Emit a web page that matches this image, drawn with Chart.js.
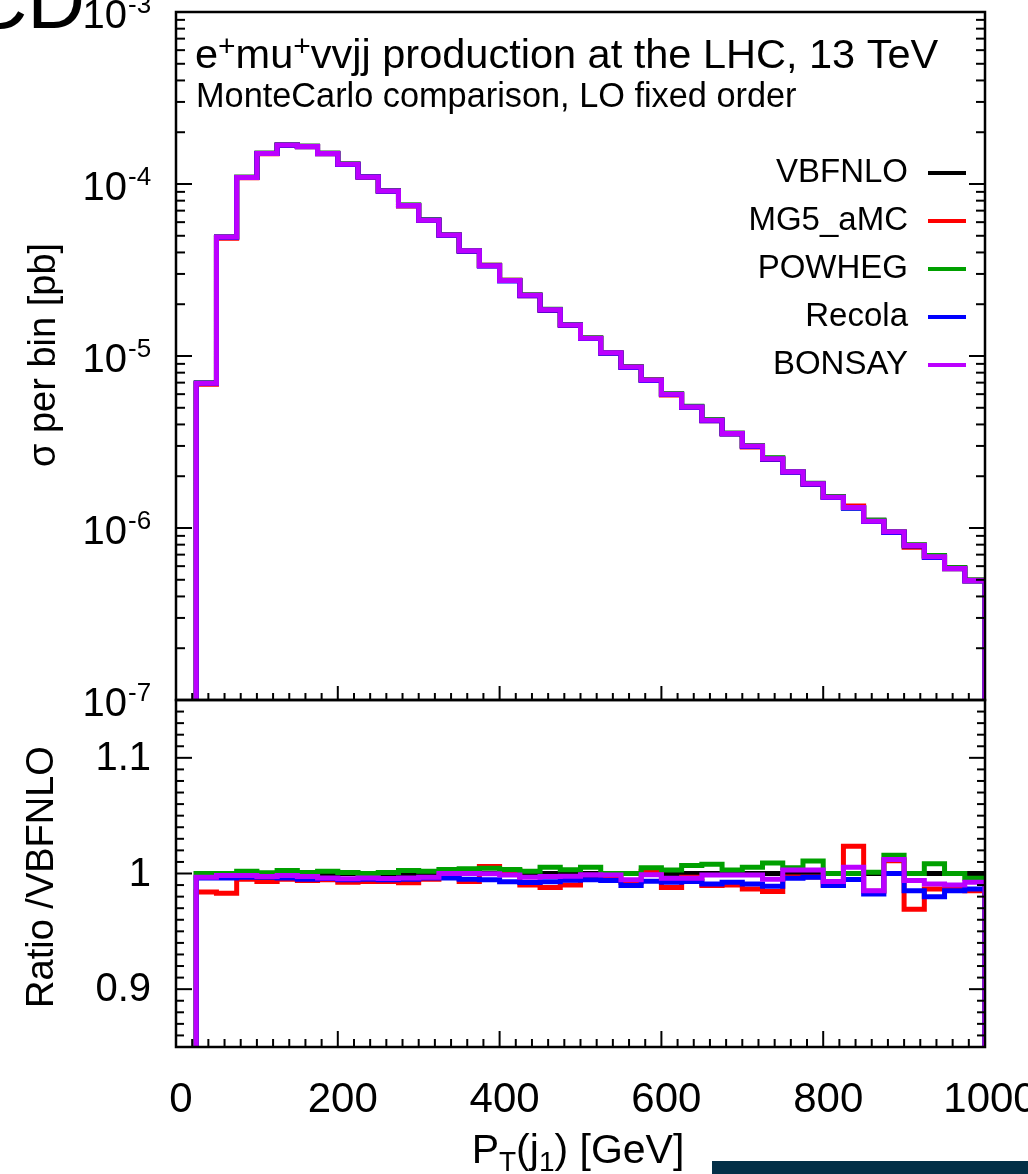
<!DOCTYPE html>
<html><head><meta charset="utf-8">
<script src="https://cdn.jsdelivr.net/npm/chart.js@4/dist/chart.umd.min.js"></script>
<style>
html,body{margin:0;padding:0;background:#fff;width:1028px;height:1174px;overflow:hidden}
canvas{position:absolute;left:0;top:0}
</style></head><body>
<canvas id="top" width="1028" height="1174"></canvas>
<canvas id="bot" width="1028" height="1174"></canvas>
<script>
// ---------------- DATA ----------------
const binLowEdges = [25,50,75,100,125,150,175,200,225,250,275,300,325,350,375,400,425,450,475,500,
  525,550,575,600,625,650,675,700,725,750,775,800,825,850,875,900,925,950,975];
const binHighEdge = 1000;

// sigma per bin [pb], VBFNLO
const vbfnlo = [6.97e-6,4.92e-5,1.094e-4,1.508e-4,1.686e-4,1.656e-4,1.508e-4,1.307e-4,1.103e-4,9.14e-5,
  7.52e-5,6.18e-5,5.05e-5,4.09e-5,3.35e-5,2.75e-5,2.26e-5,1.86e-5,1.52e-5,1.27e-5,
  1.045e-5,8.67e-6,7.25e-6,6.01e-6,5.07e-6,4.24e-6,3.55e-6,3.00e-6,2.54e-6,2.12e-6,
  1.80e-6,1.52e-6,1.31e-6,1.11e-6,9.4e-7,7.97e-7,6.87e-7,5.88e-7,4.99e-7];

// ratios to VBFNLO
const ratioVBFNLO = [1,1,1,1,1,1,1,1,1,1,1,1,1,1,1,1,1,1,1,1,1,1,1,1,1,1,1,1,1,1,1,1,1,1,1,1,1,1,1];
const ratioMG5 = [0.984,0.983,0.995,0.993,0.995,0.994,0.9945,0.9925,0.993,0.993,
  0.992,0.995,1.000,0.993,1.006,1.0026,0.990,0.988,0.990,0.998,
  0.9968,0.9925,1.002,0.988,0.9968,0.9896,0.990,0.9867,0.9845,0.997,
  0.997,0.990,1.0235,0.9846,1.011,0.969,0.9867,0.9867,0.985];
const ratioPOWHEG = [1.000,1.000,1.002,1.0006,1.0026,1.0009,1.002,1.0009,1.000,1.0009,
  1.0026,1.002,1.0035,1.004,1.0046,1.0035,1.002,1.0055,1.0032,1.0055,
  1.000,1.000,1.005,1.003,1.007,1.008,1.003,1.0055,1.009,1.0049,
  1.0107,1.000,1.000,1.001,1.0157,1.000,1.0084,1.000,0.996];
const ratioRecola = [0.9962,0.9962,0.9968,0.9968,0.9962,0.995,0.9957,0.9945,0.995,0.9945,
  0.995,0.9962,0.9962,0.995,0.9945,0.9928,0.9922,0.9928,0.9942,0.9945,
  0.994,0.9896,0.9933,0.9925,0.993,0.991,0.9925,0.991,0.989,0.996,
  0.9968,0.9896,0.9948,0.9823,1.000,0.985,0.980,0.985,0.9867];
const ratioBONSAY = [0.9968,0.9983,0.9983,0.9974,0.9983,0.9974,0.9962,0.9954,0.9962,0.9957,
  0.9962,0.9968,1.000,1.000,0.9997,0.9988,0.9968,0.9974,0.9977,0.999,
  0.9988,0.9945,0.999,0.996,0.996,0.9988,0.9988,0.9988,0.995,1.003,
  1.003,0.993,1.0055,0.985,1.012,0.994,0.991,0.990,0.9925];

const seriesNames = ['VBFNLO','MG5_aMC','POWHEG','Recola','BONSAY'];
const seriesColors = ['#000000','#ff0000','#00a000','#0000ff','#bc00ff'];
const seriesRatios = [ratioVBFNLO, ratioMG5, ratioPOWHEG, ratioRecola, ratioBONSAY];

const xTickValues = [0,200,400,600,800,1000];
const xTickLabels = ['0','200','400','600','800','1000'];
const yTopTickValues = [1e-7,1e-6,1e-5,1e-4,1e-3];
const yTopTickExponents = ['-7','-6','-5','-4','-3'];
const yRatioTickValues = [0.9,1.0,1.1];
const yRatioTickLabels = ['0.9','1','1.1'];

// ---------------- HELPERS ----------------
const F = '"Liberation Sans", Arial, Helvetica, sans-serif';
function stepPoints(values, low){
  const pts = [{x: binLowEdges[0], y: low}];
  for (let i = 0; i < values.length; i++) pts.push({x: binLowEdges[i], y: values[i]});
  pts.push({x: binHighEdge, y: values[values.length-1]});
  pts.push({x: binHighEdge, y: low});
  return pts;
}
function makeDatasets(valuesFor, low){
  return seriesNames.map((name, k) => ({
    label: name,
    data: stepPoints(valuesFor(k), low),
    borderColor: seriesColors[k],
    borderWidth: 5,
    stepped: 'before',
    pointRadius: 0,
    fill: false,
    tension: 0,
    borderJoinStyle: 'miter',
    borderCapStyle: 'butt',
    order: seriesNames.length - 1 - k,
    clip: 0
  }));
}
function tickLine(ctx, x1, y1, x2, y2){ ctx.beginPath(); ctx.moveTo(x1,y1); ctx.lineTo(x2,y2); ctx.stroke(); }
function drawRich(ctx, parts, x, y, align){
  let w = 0;
  parts.forEach(p => { ctx.font = p[1] + 'px ' + F; w += ctx.measureText(p[0]).width; });
  let cx = align === 'center' ? x - w/2 : (align === 'right' ? x - w : x);
  ctx.textAlign = 'left'; ctx.textBaseline = 'alphabetic';
  parts.forEach(p => { ctx.font = p[1] + 'px ' + F; ctx.fillText(p[0], cx, y + p[2]); cx += ctx.measureText(p[0]).width; });
}

// ---------------- TOP PANEL ----------------
const topPlugin = {
  id: 'topDecor',
  afterDraw(chart){
    const ctx = chart.ctx, a = chart.chartArea, xs = chart.scales.x, ys = chart.scales.y;
    ctx.save();
    ctx.strokeStyle = '#000'; ctx.fillStyle = '#000';
    ctx.lineWidth = 2;
    for (let e = -7; e <= -3; e++){
      const y = ys.getPixelForValue(Math.pow(10, e));
      tickLine(ctx, a.left, y, a.left + 16, y);
      tickLine(ctx, a.right, y, a.right - 16, y);
      if (e < -3){
        for (let m = 2; m <= 9; m++){
          const ym = ys.getPixelForValue(m * Math.pow(10, e));
          tickLine(ctx, a.left, ym, a.left + 9, ym);
          tickLine(ctx, a.right, ym, a.right - 9, ym);
        }
      }
    }
    for (let v = 0; v <= 1000; v += 20){
      const x = xs.getPixelForValue(v);
      const len = (v % 200 === 0) ? 14 : 7;
      tickLine(ctx, x, a.bottom, x, a.bottom - len);
    }
    ctx.lineWidth = 2.5;
    ctx.strokeRect(a.left, a.top, a.right - a.left, a.bottom - a.top);
    yTopTickValues.forEach((v, i) => {
      const y = ys.getPixelForValue(v);
      ctx.font = '40px ' + F; ctx.textAlign = 'right'; ctx.textBaseline = 'alphabetic';
      ctx.fillText('10', 127, y + 16);
      ctx.font = '26px ' + F; ctx.textAlign = 'left';
      ctx.fillText(yTopTickExponents[i], 128, y + 1);
    });
    ctx.font = '80px ' + F; ctx.textAlign = 'right'; ctx.textBaseline = 'alphabetic';
    ctx.fillText('CD', 85, 28);
    ctx.save();
    ctx.translate(45, 355); ctx.rotate(-Math.PI/2);
    ctx.font = '38px ' + F; ctx.textAlign = 'center'; ctx.textBaseline = 'middle';
    ctx.fillText('σ per bin [pb]', 0, 0);
    ctx.restore();
    drawRich(ctx, [['e',41.5,0],['+',30,-12],['mu',41.5,0],['+',30,-12],['vvjj production at the LHC, 13 TeV',41.5,0]], 195, 68, 'left');
    drawRich(ctx, [['MonteCarlo comparison, LO fixed order',34.3,0]], 196, 107, 'left');
    seriesNames.forEach((name, k) => {
      const y = 173 + 48 * k;
      ctx.font = '33px ' + F; ctx.textAlign = 'right'; ctx.textBaseline = 'middle'; ctx.fillStyle = '#000';
      ctx.fillText(name, 908, y);
      ctx.strokeStyle = seriesColors[k]; ctx.lineWidth = 4;
      tickLine(ctx, 928, y, 966, y);
    });
    ctx.restore();
  }
};

new Chart(document.getElementById('top'), {
  type: 'line',
  data: { datasets: makeDatasets(k => vbfnlo.map((v, i) => v * seriesRatios[k][i]), 1e-9) },
  options: {
    responsive: false, animation: false, devicePixelRatio: 1,
    layout: { padding: { left: 176, right: 43, top: 12, bottom: 474 } },
    scales: {
      x: { type: 'linear', min: 0, max: 1000, display: false },
      y: { type: 'logarithmic', min: 1e-7, max: 1e-3, display: false }
    },
    plugins: { legend: { display: false }, tooltip: { enabled: false } },
    events: []
  },
  plugins: [topPlugin]
});

// ---------------- RATIO PANEL ----------------
const botPlugin = {
  id: 'botDecor',
  afterDraw(chart){
    const ctx = chart.ctx, a = chart.chartArea, xs = chart.scales.x, ys = chart.scales.y;
    ctx.save();
    ctx.strokeStyle = '#000'; ctx.fillStyle = '#000';
    ctx.lineWidth = 2;
    for (let j = 85; j <= 115; j++){
      const y = ys.getPixelForValue(j / 100);
      const len = (j % 10 === 0) ? 16 : 8;
      tickLine(ctx, a.left, y, a.left + len, y);
      tickLine(ctx, a.right, y, a.right - len, y);
    }
    for (let v = 0; v <= 1000; v += 20){
      const x = xs.getPixelForValue(v);
      const len = (v % 200 === 0) ? 16 : 8;
      tickLine(ctx, x, a.bottom, x, a.bottom - len);
    }
    ctx.lineWidth = 2.5;
    ctx.strokeRect(a.left, a.top, a.right - a.left, a.bottom - a.top);
    ctx.font = '40px ' + F; ctx.textAlign = 'right'; ctx.textBaseline = 'middle';
    yRatioTickValues.forEach((v, i) => ctx.fillText(yRatioTickLabels[i], 151, ys.getPixelForValue(v) + 1));
    ctx.font = '42px ' + F; ctx.textAlign = 'center'; ctx.textBaseline = 'alphabetic';
    xTickValues.forEach((v, i) => ctx.fillText(xTickLabels[i], xs.getPixelForValue(v) + 5, 1112));
    ctx.save();
    ctx.translate(43, 877); ctx.rotate(-Math.PI/2);
    ctx.font = '38px ' + F; ctx.textAlign = 'center'; ctx.textBaseline = 'middle';
    ctx.fillText('Ratio /VBFNLO', 0, 0);
    ctx.restore();
    drawRich(ctx, [['P',41,0],['T',28,8],['(j',41,0],['1',28,8],[') [GeV]',41,0]], 578, 1163, 'center');
    ctx.fillStyle = '#032f47';
    ctx.fillRect(712, 1161, 316, 13);
    ctx.restore();
  }
};

new Chart(document.getElementById('bot'), {
  type: 'line',
  data: { datasets: makeDatasets(k => seriesRatios[k], 0) },
  options: {
    responsive: false, animation: false, devicePixelRatio: 1,
    layout: { padding: { left: 176, right: 43, top: 700, bottom: 127 } },
    scales: {
      x: { type: 'linear', min: 0, max: 1000, display: false },
      y: { type: 'linear', min: 0.85, max: 1.15, display: false }
    },
    plugins: { legend: { display: false }, tooltip: { enabled: false } },
    events: []
  },
  plugins: [botPlugin]
});
</script>
</body></html>
